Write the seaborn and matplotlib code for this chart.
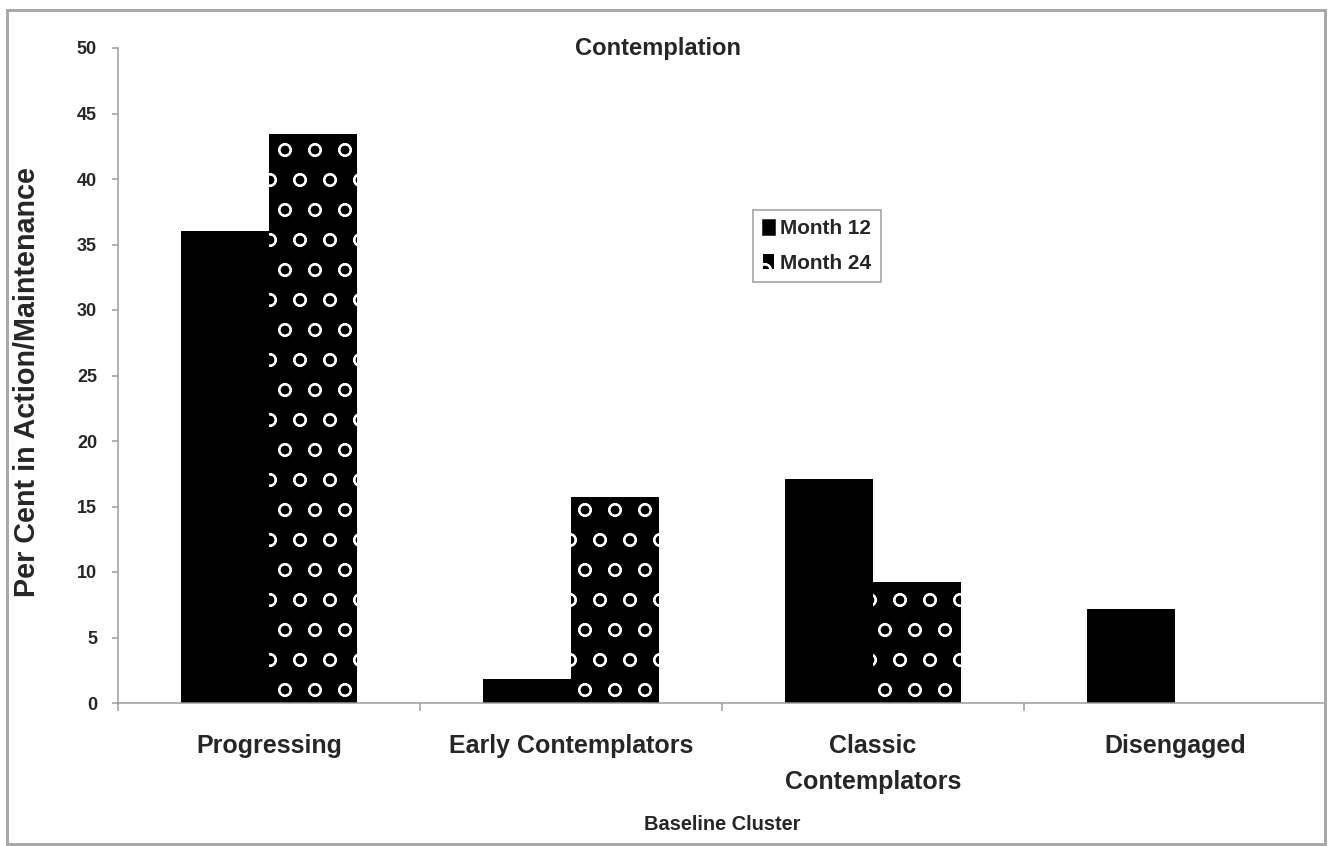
import matplotlib
matplotlib.use("Agg")
import numpy as np
import pandas as pd
import matplotlib.pyplot as plt
import seaborn as sns
from matplotlib.patches import Patch, Rectangle

# data
clusters = ['Progressing', 'Early Contemplators', 'Classic\nContemplators', 'Disengaged']
series = ['Month 12', 'Month 24']
month12 = [36.0, 1.8, 17.1, 7.2]
month24 = [43.4, 15.7, 9.2, 0.0]
y_ticks = [0, 5, 10, 15, 20, 25, 30, 35, 40, 45, 50]

df = pd.DataFrame({
    'Cluster': clusters * 2,
    'Month': [series[0]] * len(clusters) + [series[1]] * len(clusters),
    'Percent': month12 + month24,
})

sns.set_style('white')
plt.rcParams['font.family'] = ['Liberation Sans', 'DejaVu Sans']
plt.rcParams['hatch.linewidth'] = 0.8

DPI = 180
W, H = 1337, 846
fig, ax = plt.subplots(figsize=(W / DPI, H / DPI), dpi=DPI)
fig.subplots_adjust(left=118 / W, right=1326 / W, bottom=1 - 703 / H, top=1 - 48 / H)

sns.barplot(data=df, x='Cluster', y='Percent', hue='Month', order=clusters,
            hue_order=series, palette=['black', 'black'], saturation=1,
            width=0.58, gap=0, linewidth=0, legend=False, ax=ax)

# second series: black with white pattern
for bar in ax.patches[len(clusters):]:
    bar.set_hatch('o')
    bar.set_edgecolor('white')
    bar.set_linewidth(0)

grey = '#9a9a9a'
ax.set_ylim(0, 50)
ax.set_xlim(-0.5, len(clusters) - 0.5)
ax.set_yticks(y_ticks)
ax.set_yticklabels([str(t) for t in y_ticks], fontsize=7.2, fontweight='bold')
ax.set_xticks(range(len(clusters)))
ax.set_xticklabels(clusters, fontsize=10, fontweight='bold')
for lab in ax.get_xticklabels():
    lab.set_linespacing(1.6)
ax.set_xticks(np.arange(len(clusters) + 1) - 0.5, minor=True)

ax.tick_params(axis='y', which='major', direction='out', length=2.4, width=0.6,
               color=grey, pad=6, left=True)
ax.tick_params(axis='x', which='major', length=0, pad=12.5)
ax.tick_params(axis='x', which='minor', direction='out', length=3.2, width=0.6,
               color=grey, bottom=True)

for side in ['top', 'right']:
    ax.spines[side].set_visible(False)
for side in ['left', 'bottom']:
    ax.spines[side].set_color(grey)
    ax.spines[side].set_linewidth(0.6)

ax.set_ylabel('Per Cent in Action/Maintenance', fontsize=11.5, fontweight='bold')
ax.yaxis.set_label_coords(-0.064, 0.49)
ax.set_xlabel('Baseline Cluster', fontsize=8, fontweight='bold')
ax.xaxis.set_label_coords(0.5, -0.171)

ax.text(0.447, 1.0, 'Contemplation', transform=ax.transAxes, ha='center',
        va='center', fontsize=9.5, fontweight='bold')

handles = [Patch(facecolor='black', edgecolor='black', label=series[0]),
           Patch(facecolor='black', edgecolor='white', hatch='o', linewidth=0,
                 label=series[1])]
leg = ax.legend(handles=handles, loc='upper left', bbox_to_anchor=(0.526, 0.753),
                fancybox=False, framealpha=1, edgecolor=grey,
                prop={'size': 8.3, 'weight': 'bold'}, handlelength=0.55,
                handleheight=0.7, handletextpad=0.3, borderpad=0.45,
                labelspacing=0.75, borderaxespad=0)
leg.get_frame().set_linewidth(0.6)

# outer frame around the whole picture
fig.add_artist(Rectangle((7 / W, 2 / H), 1318 / W, 834 / H, transform=fig.transFigure,
                         fill=False, edgecolor='#a8a8a8', linewidth=1.2))

fig.savefig('out.png', dpi=DPI)
